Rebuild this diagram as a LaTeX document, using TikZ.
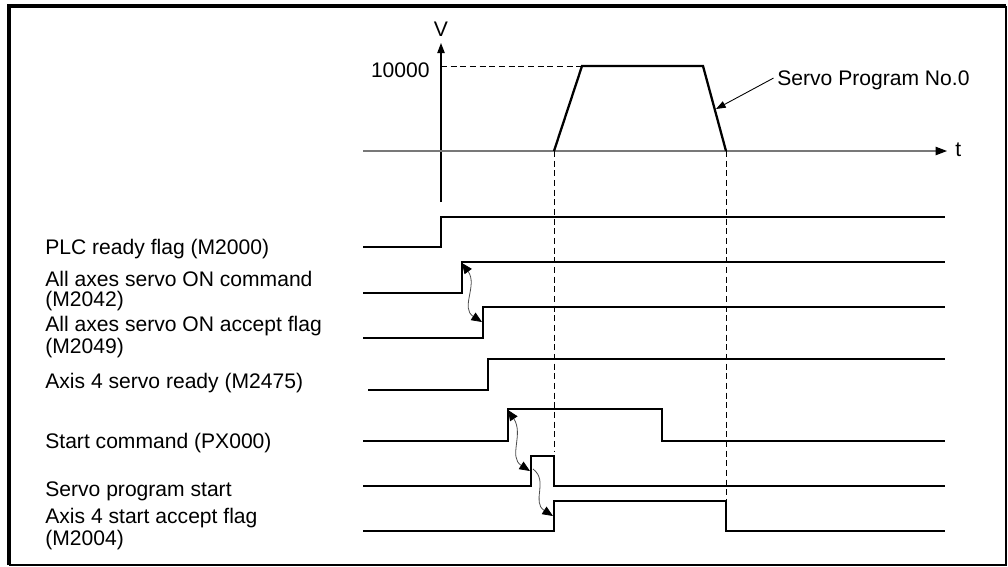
\documentclass[tikz,border=0pt]{standalone}
\usepackage{fontspec}
\setmainfont{Liberation Sans}
\usetikzlibrary{arrows.meta,positioning}
\definecolor{ink}{RGB}{0,0,0}
\definecolor{rule}{RGB}{120,120,120}
\tikzset{
  >={Triangle[length=6pt,width=5pt,color=ink]},
  sig/.style={draw=ink,line width=1.3pt,line join=miter},
  axis/.style={draw=#1,line width=0.6pt},
  axis/.default=rule,
  guide/.style={draw=ink,line width=0.5pt,dash pattern=on 3.5pt off 2pt},
  tag/.style={font=\fontsize{12}{11}\selectfont,inner sep=0pt,align=left,anchor=base west},
  wave/.style={line width=0.45pt,draw=ink!70},
  pointer/.style={-{Triangle[length=5.5pt,width=4pt]},line width=0.5pt,draw=ink},
}

\begin{document}
\begin{tikzpicture}[x=0.02cm,y=-0.02cm]
  \useasboundingbox (0,0) rectangle (1008,566);
  % frame
  \draw[line width=2.3pt] (9,565) -- (9,6) -- (1006,6);
  \draw[line width=1.1pt] (9,565) -- (1006,565) -- (1006,6);

  % speed axes
  \coordinate (vbot) at (441,202); \coordinate (vtop) at (441,43);
  \coordinate (tleft) at (363,151); \coordinate (tright) at (947,151);
  \draw[axis=ink,-{Triangle[length=5.7pt,width=4.2pt]}] (vbot) -- (vtop);
  \draw[axis,-{Triangle[length=6.5pt,width=4.8pt,color=ink]}] (tleft) -- (tright);
  \node[tag,anchor=base] (vlab) at (441,36) {V};
  \node[tag] (tlab) at (955,156.7) {t};
  \node[tag,anchor=base east] (vmax) at (430,77.3) {10000};

  % trapezoid
  \coordinate (acc0) at (554,151); \coordinate (acc1) at (582,66);
  \coordinate (dec0) at (703,66);  \coordinate (dec1) at (726,151);
  \draw[sig] (acc0) -- (acc1) -- (dec0) -- (dec1);
  \draw[guide] (vtop |- acc1) -- (acc1);
  \draw[guide] (acc0) -- (554,452);
  \draw[guide] (dec1) -- (726,500);
  \node[tag] (prog) at (777,85) {Servo Program No.0};
  \coordinate (slope) at (716,109);
  \draw[pointer] ([xshift=-2pt,yshift=1pt]prog.west) -- (slope);

  % signal names (base of the last line)
  \node[tag] (plc)  at (45,254)   {PLC ready flag (M2000)};
  \node[tag] (son)  at (45,306)   {All axes servo ON command\\(M2042)};
  \node[tag] (sacc) at (45,353.3) {All axes servo ON accept flag\\(M2049)};
  \node[tag] (rdy)  at (45,388.3) {Axis 4 servo ready (M2475)};
  \node[tag] (stc)  at (45,448.3) {Start command (PX000)};
  \node[tag] (svs)  at (45,496)   {Servo program start};
  \node[tag] (stac) at (45,545)   {Axis 4 start accept flag\\(M2004)};

  % signals
  \draw[sig] (363,247) -- (441,247) -- (441,217) -- (945,217);
  \draw[sig] (363,293) -- (462,293) -- (462,262) -- (945,262);
  \draw[sig] (363,338) -- (483,338) -- (483,307) -- (945,307);
  \draw[sig] (368,390) -- (488,390) -- (488,359) -- (945,359);
  \draw[sig] (363,441) -- (508,441) -- (508,409) -- (662,409) -- (662,441) -- (945,441);
  \draw[sig] (363,486) -- (531,486) -- (531,456) -- (554,456) -- (554,486) -- (945,486);
  \draw[sig] (363,531) -- (554,531) -- (554,501) -- (726,501) -- (726,531) -- (945,531);

  % handshakes
  \coordinate (w1a) at (462,263); \coordinate (w1b) at (482,322);
  \coordinate (w2a) at (508,410); \coordinate (w2b) at (530,471);
  \coordinate (w3a) at (533,469); \coordinate (w3b) at (553,516);
  \draw[wave,<->] (w1a) .. controls +(16,22) and +(-22,-14) .. (w1b);
  \draw[wave,<->] (w2a) .. controls +(16,24) and +(-22,-14) .. (w2b);
  \draw[wave,->] (w3a) .. controls +(16,12) and +(-22,-14) .. (w3b);
\end{tikzpicture}
\end{document}
